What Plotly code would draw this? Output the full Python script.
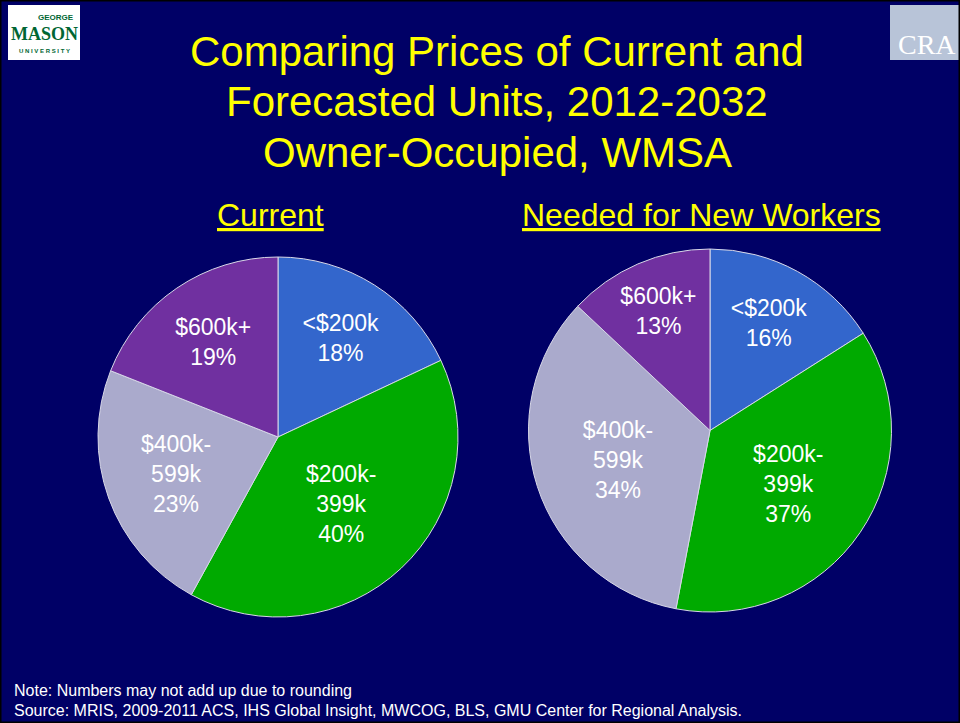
import plotly.graph_objects as go

categories = ["&lt;$200k", "$200k-<br>399k", "$400k-<br>599k", "$600k+"]
current_values = [18, 40, 23, 19]
needed_values = [16, 37, 34, 13]
colors = ["#3366CC", "#00AA00", "#AAAACC", "#7030A0"]

title_lines = ["Comparing Prices of Current and", "Forecasted Units, 2012-2032", "Owner-Occupied, WMSA"]
subtitle_current = "Current"
subtitle_needed = "Needed for New Workers"
note_text = "Note: Numbers may not add up due to rounding"
source_text = "Source: MRIS, 2009-2011 ACS, IHS Global Insight, MWCOG, BLS, GMU Center for Regional Analysis."

BG = "#000066"
FONT = "Liberation Sans, Arial, sans-serif"
W, H = 960, 723


def px(x):
    return x / W


def py(y):
    return 1 - y / H


def make_pie(values, domain):
    texts = [f"{c}<br>{v}%" for c, v in zip(categories, values)]
    return go.Pie(
        values=values,
        text=texts,
        textinfo="text",
        textposition="inside",
        insidetextorientation="horizontal",
        sort=False,
        direction="clockwise",
        rotation=0,
        marker=dict(colors=colors, line=dict(color="#D8D8E8", width=1)),
        textfont=dict(color="white", size=23, family=FONT),
        domain=domain,
        showlegend=False,
        hoverinfo="skip",
    )


fig = go.Figure()
fig.add_trace(make_pie(current_values, dict(x=[px(97), px(459)], y=[py(617), py(257)])))
fig.add_trace(make_pie(needed_values, dict(x=[px(527), px(893)], y=[py(612), py(249)])))

annotations = []
for i, line in enumerate(title_lines):
    annotations.append(dict(
        text=line, x=px(497), y=py(52 + 50 * i), xref="paper", yref="paper",
        xanchor="center", yanchor="middle", showarrow=False,
        font=dict(color="#FFFF00", size=42, family=FONT)))
annotations.append(dict(
    text=f"<u>{subtitle_current}</u>", x=px(270), y=py(215), xref="paper", yref="paper",
    xanchor="center", yanchor="middle", showarrow=False,
    font=dict(color="#FFFF00", size=32, family=FONT)))
annotations.append(dict(
    text=f"<u>{subtitle_needed}</u>", x=px(701), y=py(215), xref="paper", yref="paper",
    xanchor="center", yanchor="middle", showarrow=False,
    font=dict(color="#FFFF00", size=32, family=FONT)))
annotations.append(dict(
    text=note_text, x=px(12), y=py(690), xref="paper", yref="paper",
    xanchor="left", yanchor="middle", showarrow=False,
    font=dict(color="white", size=16, family=FONT)))
annotations.append(dict(
    text=source_text, x=px(12), y=py(710), xref="paper", yref="paper",
    xanchor="left", yanchor="middle", showarrow=False,
    font=dict(color="white", size=16, family=FONT)))

# Logo placeholders (text-based)
annotations.append(dict(
    text="<b>GEORGE</b>", x=px(56), y=py(17), xref="paper", yref="paper",
    xanchor="center", yanchor="middle", showarrow=False,
    font=dict(color="#006633", size=8, family=FONT)))
annotations.append(dict(
    text="<b>MASON</b>", x=px(44), y=py(34), xref="paper", yref="paper",
    xanchor="center", yanchor="middle", showarrow=False,
    font=dict(color="#006633", size=18, family="Liberation Serif, serif")))
annotations.append(dict(
    text="<b>U N I V E R S I T Y</b>", x=px(44), y=py(51), xref="paper", yref="paper",
    xanchor="center", yanchor="middle", showarrow=False,
    font=dict(color="#006633", size=6, family=FONT)))
annotations.append(dict(
    text="CRA", x=px(958), y=py(44), xref="paper", yref="paper",
    xanchor="right", yanchor="middle", showarrow=False,
    font=dict(color="white", size=28, family="Liberation Serif, serif")))

shapes = [
    dict(type="rect", xref="paper", yref="paper", x0=px(8), x1=px(80),
         y0=py(60), y1=py(5), fillcolor="white", line=dict(width=0), layer="below"),
    dict(type="rect", xref="paper", yref="paper", x0=px(890), x1=px(960),
         y0=py(60), y1=py(5), fillcolor="#B8C4D8", line=dict(width=0), layer="below"),
    dict(type="rect", xref="paper", yref="paper", x0=0, x1=1, y0=0, y1=1,
         fillcolor="rgba(0,0,0,0)", line=dict(color="black", width=3)),
]

fig.update_layout(
    width=W, height=H,
    margin=dict(l=0, r=0, t=0, b=0),
    paper_bgcolor=BG, plot_bgcolor=BG,
    annotations=annotations, shapes=shapes,
)

fig.write_html(
    "out.html",
    config={"displayModeBar": False},
    post_script="document.body.style.margin='0';document.body.style.padding='0';document.body.style.overflow='hidden';",
)
